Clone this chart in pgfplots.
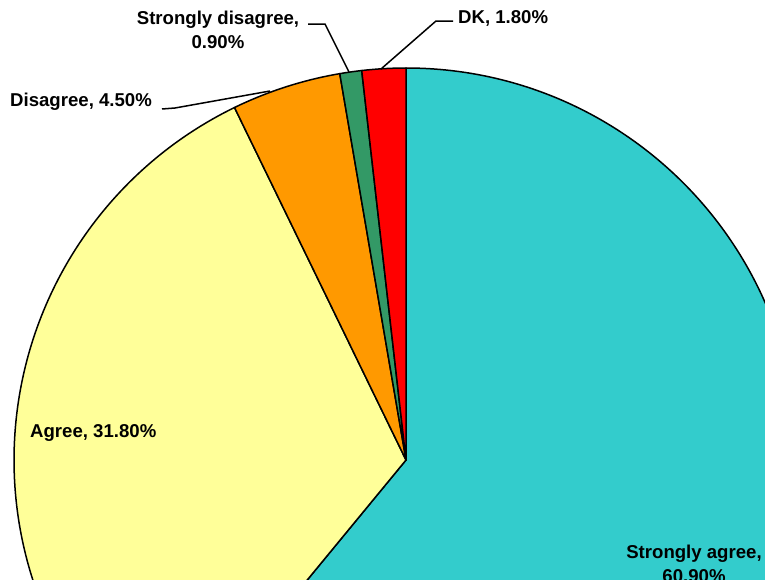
\documentclass[border=0pt]{standalone}
\usepackage{pgfplots}
\pgfplotsset{compat=1.18}
\usepackage{fontspec}
\setmainfont{Liberation Sans}

\definecolor{sagree}{HTML}{33CCCC}
\definecolor{agree}{HTML}{FFFF99}
\definecolor{disagree}{HTML}{FF9900}
\definecolor{sdisagree}{HTML}{339966}
\definecolor{dk}{HTML}{FF0000}

\tikzset{lbl/.style={font=\fontsize{18.6}{24}\selectfont\bfseries, inner sep=0pt}}

% shares add up to 99.9, so scale them to the full circle
\newcommand\degper{3.6036}
% #1 = cumulative start (%), #2 = share (%), #3 = colour
\newcommand\slice[3]{%
  \filldraw[fill=#3, draw=black, line width=1.5pt, line join=round]
    (axis cs:0,0) -- (axis cs:{392*cos(90-\degper*#1)},{392*sin(90-\degper*#1)})
    arc[start angle={90-\degper*#1}, delta angle={-\degper*#2}, radius=392] -- cycle;}

\begin{document}
\begin{tikzpicture}
\begin{axis}[
    width=765pt, height=579pt, scale only axis,
    xmin=-406, xmax=359, ymin=-119, ymax=460,
    hide axis, clip=false,
  ]
  \addplot[draw=none] coordinates {(0,0)};
  \slice{0}{60.9}{sagree}
  \slice{60.9}{31.8}{agree}
  \slice{92.7}{4.5}{disagree}
  \slice{97.2}{0.9}{sdisagree}
  \slice{98.1}{1.8}{dk}

  % leader lines
  \draw[line width=1.5pt] (axis cs:-244,351) -- (axis cs:-231,352) -- (axis cs:-136,369);
  \draw[line width=1.5pt] (axis cs:-98,436) -- (axis cs:-81,436) -- (axis cs:-57,388);
  \draw[line width=1.5pt] (axis cs:47,439) -- (axis cs:30,439) -- (axis cs:-25,391);

  % labels
  \node[lbl, anchor=west] at (axis cs:-376,27) {Agree, 31.80\%};
  \node[lbl, anchor=west] at (axis cs:-396,358) {Disagree, 4.50\%};
  \node[lbl, align=center] at (axis cs:-188,430) {Strongly disagree,\\0.90\%};
  \node[lbl, anchor=west] at (axis cs:52,442) {DK, 1.80\%};
  \node[lbl, align=center] at (axis cs:288,-104) {Strongly agree,\\60.90\%};
\end{axis}
\pgfresetboundingbox
\useasboundingbox (current axis.south west) rectangle (current axis.north east);
\end{tikzpicture}
\end{document}
